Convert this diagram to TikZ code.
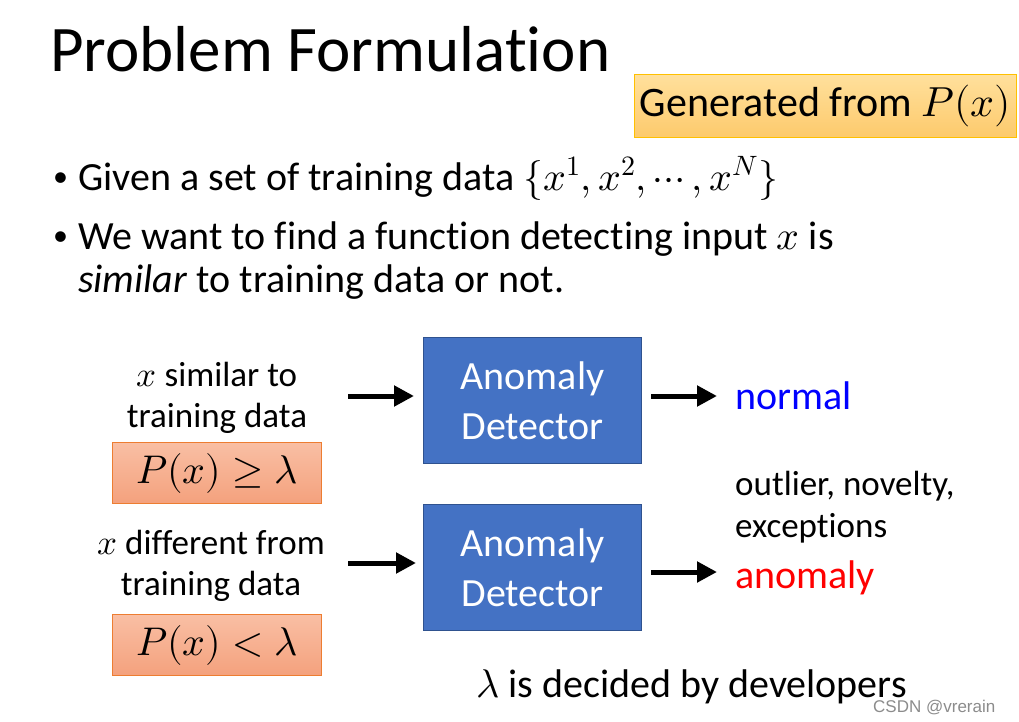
\documentclass[tikz,border=0pt]{standalone}
\usepackage{fontspec}
\usepackage{unicode-math}
\setmainfont[Ligatures=NoCommon]{Carlito}
\setmathfont{Latin Modern Math}
\newfontfamily\wmfont{Liberation Sans}
\usetikzlibrary{arrows.meta}
\definecolor{detblue}{HTML}{4472C4}
\definecolor{detborder}{HTML}{2F528F}
\definecolor{ytop}{HTML}{FFE09C}
\definecolor{ybot}{HTML}{FDCA6C}
\definecolor{yborder}{HTML}{FFC000}
\definecolor{otop}{HTML}{F9BFA4}
\definecolor{obot}{HTML}{F4A17D}
\definecolor{oborder}{HTML}{ED7D31}
\definecolor{normblue}{HTML}{0000FF}
\definecolor{anred}{HTML}{FF0000}
\tikzset{
  detbox/.style={draw=detborder, line width=1pt, fill=detblue, text=white, anchor=north west,
    minimum width=218pt, minimum height=126pt, align=center, inner sep=0pt,
    font=\fontsize{40}{50}\selectfont},
  condbox/.style={draw=oborder, line width=1pt, top color=otop, bottom color=obot, anchor=north west,
    minimum width=209pt, minimum height=61pt, inner sep=0pt, font=\fontsize{40}{48}\selectfont},
  genbox/.style={draw=yborder, line width=1pt, top color=ytop, bottom color=ybot, anchor=north west,
    minimum width=382pt, minimum height=63pt, inner sep=0pt, font=\fontsize{42}{50}\selectfont},
  bodytext/.style={anchor=base west, inner sep=0pt, font=\fontsize{40}{48}\selectfont},
  bullettext/.style={anchor=base west, inner sep=0pt, font=\fontsize{30}{36}\selectfont},
  sidetext/.style={align=center, inner sep=0pt, font=\fontsize{35}{41}\selectfont},
  arr/.style={line width=5pt, -{Triangle[length=20pt,width=20pt]}},
}
\begin{document}
\begin{tikzpicture}[x=1pt,y=-1pt]
\useasboundingbox[fill=white] (0,0) rectangle (1019,722);
% title
\node[anchor=base west, inner sep=0pt, font=\fontsize{65}{70}\selectfont] (title) at (50,72) {Problem Formulation};
% generated box
\node[genbox] (gen) at (634,74) {Generated from $P(x)$};
% bullets
\node[bullettext] (b1) at (53,186) {•};
\node[bodytext] (t1) at (78,190) {Given a set of training data $\{x^1,x^2,\cdots,x^N\}$};
\node[bullettext] (b2) at (53,245) {•};
\node[bodytext] (t2) at (78,249) {We want to find a function detecting input $x$ is};
\node[bodytext] (t3) at (78,292) {\textit{similar} to training data or not.};
% detectors
\node[detbox] (det1) at (423,337) {Anomaly\\Detector};
\node[detbox] (det2) at (423,504) {Anomaly\\Detector};
% left labels
\node[sidetext, anchor=base] (l1) at (217,427) {$x$ similar to\\training data};
\node[condbox] (c1) at (112,442) {$P(x)\geq\lambda$};
\node[sidetext, anchor=base] (l2) at (211,595) {$x$ different from\\training data};
\node[condbox] (c2) at (112,614) {$P(x)<\lambda$};
% outputs
\node[bodytext, text=normblue] (normal) at (735,409) {normal};
\node[anchor=base west, inner sep=0pt, align=left, font=\fontsize{35}{42}\selectfont] (outl) at (735,537) {outlier, novelty,\\exceptions};
\node[bodytext, text=anred] (anom) at (735,588) {anomaly};
% arrows
\coordinate (a1s) at (348,396);
\coordinate (a2s) at (348,563);
\coordinate (o1e) at (717,396);
\coordinate (o2e) at (717,572);
\draw[arr, shorten >=9pt] (a1s) -- (a1s -| det1.west);
\draw[arr, shorten >=7pt] (a2s) -- (a2s -| det2.west);
\draw[arr, shorten <=9pt] (o1e -| det1.east) -- (o1e);
\draw[arr, shorten <=9pt] (o2e -| det2.east) -- (o2e);
% bottom note
\node[bodytext] (note) at (476,697) {$\lambda$ is decided by developers};
% watermark
\node[anchor=base west, inner sep=0pt, text=black!45, font=\wmfont\fontsize{17}{20}\selectfont] (wm) at (873,712) {CSDN @vrerain};
\end{tikzpicture}
\end{document}
